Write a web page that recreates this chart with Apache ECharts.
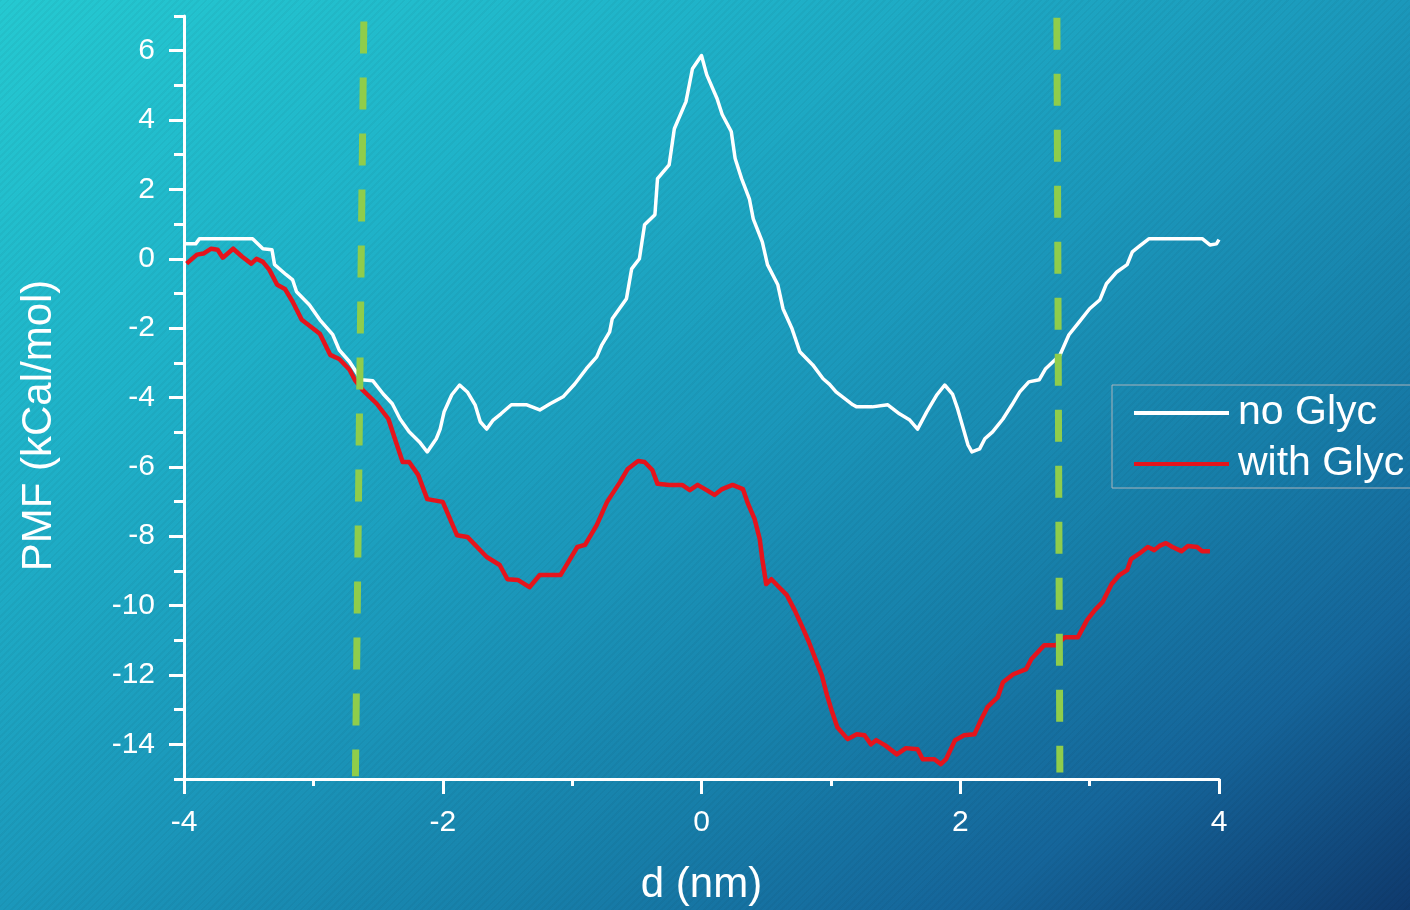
<!DOCTYPE html>
<html>
<head>
<meta charset="utf-8">
<script src="https://cdn.jsdelivr.net/npm/echarts@6/dist/echarts.min.js"></script>
<style>
  html, body { margin: 0; padding: 0; width: 1410px; height: 910px; overflow: hidden; }
  #wrap {
    position: relative; width: 1410px; height: 910px;
    background: linear-gradient(to bottom right, #25c9d1 0%, #1fb3c9 25%, #1b98bb 50%, #1780aa 68%, #15659a 84%, #0f3a6d 100%);
  }
  #stripes {
    position: absolute; left: 0; top: 0; width: 1410px; height: 910px;
    background: repeating-linear-gradient(135deg, rgba(0,0,0,0.035) 0px, rgba(0,0,0,0.035) 2px, rgba(255,255,255,0) 2px, rgba(255,255,255,0) 5px);
  }
  #chart { position: absolute; left: 0; top: 0; width: 1410px; height: 910px; }
</style>
</head>
<body>
<div id="wrap"><div id="stripes"></div><div id="chart"></div></div>
<script>
// ---- data (d in nm, PMF in kCal/mol) ----
const seriesNames = ['no Glyc', 'with Glyc'];

const noGlyc = [
  [-4.00, 0.43], [-3.91, 0.43], [-3.88, 0.58], [-3.47, 0.58], [-3.42, 0.40], [-3.39, 0.29],
  [-3.32, 0.26], [-3.30, -0.17], [-3.21, -0.46], [-3.16, -0.61], [-3.13, -0.95], [-3.03, -1.33],
  [-2.95, -1.76], [-2.85, -2.19], [-2.80, -2.63], [-2.72, -2.97], [-2.68, -3.20], [-2.63, -3.49],
  [-2.54, -3.52], [-2.46, -3.90], [-2.39, -4.18], [-2.33, -4.62], [-2.26, -4.99], [-2.18, -5.28],
  [-2.12, -5.57], [-2.05, -5.19], [-2.02, -4.91], [-1.99, -4.42], [-1.93, -3.92], [-1.87, -3.64],
  [-1.81, -3.84], [-1.75, -4.21], [-1.71, -4.70], [-1.66, -4.91], [-1.61, -4.65], [-1.55, -4.47],
  [-1.47, -4.21], [-1.35, -4.21], [-1.25, -4.36], [-1.17, -4.18], [-1.07, -3.98], [-0.98, -3.61],
  [-0.89, -3.17], [-0.81, -2.83], [-0.77, -2.48], [-0.71, -2.11], [-0.69, -1.73], [-0.58, -1.15],
  [-0.54, -0.29], [-0.48, 0.00], [-0.44, 0.98], [-0.36, 1.27], [-0.34, 2.31], [-0.25, 2.71],
  [-0.21, 3.75], [-0.12, 4.53], [-0.07, 5.48], [0.00, 5.86], [0.04, 5.31], [0.12, 4.62],
  [0.16, 4.16], [0.23, 3.67], [0.26, 2.89], [0.31, 2.31], [0.37, 1.73], [0.40, 1.15],
  [0.47, 0.49], [0.51, -0.17], [0.59, -0.75], [0.63, -1.44], [0.70, -2.02], [0.76, -2.68],
  [0.86, -3.06], [0.94, -3.46], [0.99, -3.62], [1.04, -3.84], [1.09, -3.98], [1.17, -4.21],
  [1.20, -4.27], [1.32, -4.27], [1.44, -4.21], [1.53, -4.47], [1.61, -4.65], [1.67, -4.91],
  [1.74, -4.42], [1.82, -3.92], [1.88, -3.64], [1.94, -3.90], [1.98, -4.33], [2.02, -4.85],
  [2.06, -5.37], [2.09, -5.57], [2.15, -5.48], [2.19, -5.19], [2.25, -4.99], [2.33, -4.62],
  [2.40, -4.21], [2.46, -3.84], [2.53, -3.55], [2.61, -3.49], [2.66, -3.17], [2.77, -2.78],
  [2.84, -2.19], [2.92, -1.82], [3.00, -1.44], [3.08, -1.18], [3.13, -0.72], [3.21, -0.38],
  [3.29, -0.17], [3.33, 0.20], [3.38, 0.35], [3.46, 0.58], [3.87, 0.58], [3.93, 0.40],
  [3.98, 0.43], [4.00, 0.55]
];

const withGlyc = [
  [-3.98, -0.14], [-3.90, 0.12], [-3.85, 0.15], [-3.79, 0.29], [-3.74, 0.26], [-3.70, 0.03],
  [-3.62, 0.29], [-3.55, 0.06], [-3.48, -0.14], [-3.44, 0.00], [-3.39, -0.09], [-3.34, -0.32],
  [-3.28, -0.75], [-3.22, -0.87], [-3.16, -1.24], [-3.09, -1.76], [-2.95, -2.16], [-2.87, -2.77],
  [-2.80, -2.89], [-2.72, -3.20], [-2.68, -3.49], [-2.62, -3.78], [-2.51, -4.18], [-2.42, -4.62],
  [-2.37, -5.19], [-2.31, -5.86], [-2.26, -5.86], [-2.19, -6.23], [-2.12, -6.93], [-2.00, -7.01],
  [-1.89, -7.97], [-1.81, -8.02], [-1.66, -8.60], [-1.56, -8.83], [-1.50, -9.24], [-1.42, -9.26],
  [-1.33, -9.47], [-1.25, -9.12], [-1.09, -9.12], [-0.96, -8.31], [-0.90, -8.25], [-0.81, -7.68],
  [-0.73, -7.01], [-0.63, -6.44], [-0.57, -6.06], [-0.49, -5.83], [-0.44, -5.86], [-0.38, -6.09],
  [-0.34, -6.49], [-0.25, -6.52], [-0.15, -6.52], [-0.09, -6.67], [-0.03, -6.52], [0.04, -6.67],
  [0.10, -6.81], [0.16, -6.64], [0.24, -6.52], [0.32, -6.64], [0.36, -7.07], [0.41, -7.50],
  [0.45, -8.08], [0.47, -8.66], [0.50, -9.38], [0.54, -9.24], [0.60, -9.47], [0.66, -9.70],
  [0.72, -10.13], [0.78, -10.62], [0.83, -11.05], [0.89, -11.63], [0.93, -12.01], [0.97, -12.58],
  [1.01, -13.07], [1.05, -13.51], [1.13, -13.85], [1.20, -13.71], [1.26, -13.74], [1.31, -14.00],
  [1.35, -13.88], [1.42, -14.03], [1.51, -14.29], [1.58, -14.11], [1.67, -14.14], [1.71, -14.43],
  [1.80, -14.43], [1.85, -14.57], [1.89, -14.43], [1.96, -13.88], [2.03, -13.74], [2.11, -13.71],
  [2.16, -13.30], [2.21, -12.93], [2.29, -12.64], [2.33, -12.21], [2.41, -11.98], [2.51, -11.83],
  [2.55, -11.54], [2.65, -11.14], [2.74, -11.14], [2.81, -10.91], [2.91, -10.91], [2.98, -10.42],
  [3.04, -10.13], [3.10, -9.90], [3.17, -9.38], [3.23, -9.12], [3.29, -8.98], [3.32, -8.66],
  [3.38, -8.51], [3.45, -8.31], [3.50, -8.40], [3.54, -8.28], [3.59, -8.20], [3.64, -8.31],
  [3.71, -8.43], [3.76, -8.28], [3.83, -8.31], [3.87, -8.43], [3.93, -8.43]
];

// dashed boundary markers (top and bottom end points)
const boundaryLeft = [[-2.61, 6.84], [-2.675, -14.92]];
const boundaryRight = [[2.747, 6.95], [2.77, -14.81]];

// axis ticks
const xTickValues = [-4, -2, 0, 2, 4];
const yLabelValues = [-14, -12, -10, -8, -6, -4, -2, 0, 2, 4, 6];

const FONT = '"Liberation Sans", Arial, sans-serif';
const chart = echarts.init(document.getElementById('chart'), null, { renderer: 'canvas' });

const option = {
  backgroundColor: 'transparent',
  animation: false,
  textStyle: { fontFamily: FONT },
  grid: { left: 184, right: 191, top: 16, bottom: 131, containLabel: false, outerBoundsMode: 'none' },
  legend: {
    data: seriesNames,
    orient: 'vertical',
    left: 1112, top: 385,
    padding: [7, 30, 3, 22],
    itemGap: 9,
    itemWidth: 95, itemHeight: 4,
    icon: 'rect',
    borderColor: '#a9b3bb', borderWidth: 1,
    textStyle: { color: '#ffffff', fontSize: 41, lineHeight: 42, fontFamily: FONT, padding: [0, 0, 0, 4] }
  },
  xAxis: {
    type: 'value', min: -4, max: 4, interval: 2,
    name: 'd (nm)', nameLocation: 'middle', nameGap: 85,
    nameTextStyle: { color: '#ffffff', fontSize: 42, fontFamily: FONT },
    axisLine: { show: true, onZero: false, lineStyle: { color: '#ffffff', width: 3 } },
    axisTick: { show: true, inside: false, length: 15, lineStyle: { color: '#ffffff', width: 3 } },
    minorTick: { show: true, splitNumber: 2, length: 7, lineStyle: { color: '#ffffff', width: 3 } },
    axisLabel: { color: '#ffffff', fontSize: 30, margin: 29, fontFamily: FONT,
      customValues: xTickValues },
    splitLine: { show: false }, minorSplitLine: { show: false }
  },
  yAxis: [
    {
      type: 'value', min: -15, max: 7, interval: 1, position: 'left',
      name: 'PMF (kCal/mol)', nameLocation: 'middle', nameGap: 124, nameRotate: 90,
      nameTextStyle: { color: '#ffffff', fontSize: 42, fontFamily: FONT, padding: [0, 56, 0, 0] },
      axisLine: { show: true, onZero: false, lineStyle: { color: '#ffffff', width: 3 } },
      axisTick: { show: true, inside: false, length: 15, customValues: yLabelValues,
        lineStyle: { color: '#ffffff', width: 3 } },
      axisLabel: { color: '#ffffff', fontSize: 30, margin: 29, fontFamily: FONT,
        customValues: yLabelValues,
        formatter: function (v) { return (Math.round(v) % 2 === 0) ? String(v) : ''; } },
      splitLine: { show: false }
    },
    {
      type: 'value', min: -15, max: 7, interval: 1, position: 'left', offset: 0,
      axisLine: { show: false, onZero: false },
      axisTick: { show: true, inside: false, length: 10, lineStyle: { color: '#ffffff', width: 3 } },
      axisLabel: { show: false },
      splitLine: { show: false }
    }
  ],
  series: [
    {
      name: seriesNames[1], type: 'line', data: withGlyc, yAxisIndex: 0,
      symbol: 'none', smooth: false, z: 3,
      itemStyle: { color: '#e5141c' },
      lineStyle: { color: '#e5141c', width: 4.5, join: 'round' }
    },
    {
      name: seriesNames[0], type: 'line', data: noGlyc, yAxisIndex: 0,
      symbol: 'none', smooth: false, z: 4,
      itemStyle: { color: '#ffffff' },
      lineStyle: { color: '#ffffff', width: 3.5, join: 'round' }
    },
    {
      name: 'boundaryL', type: 'line', data: boundaryLeft, yAxisIndex: 0,
      symbol: 'none', silent: true, z: 5,
      lineStyle: { color: '#8fcd4b', width: 7, type: [32, 24], cap: 'butt' }
    },
    {
      name: 'boundaryR', type: 'line', data: boundaryRight, yAxisIndex: 0,
      symbol: 'none', silent: true, z: 5,
      lineStyle: { color: '#8fcd4b', width: 7, type: [32, 24], cap: 'butt' }
    }
  ]
};
chart.setOption(option);
</script>
</body>
</html>
